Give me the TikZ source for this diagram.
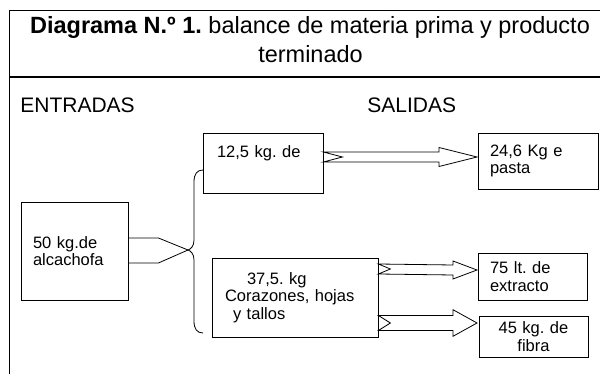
\documentclass[tikz,border=0pt]{standalone}
\usepackage{fontspec}
\setmainfont{Liberation Sans}
\usetikzlibrary{calc}
\frenchspacing

\tikzset{
  caja/.style={draw, line width=0.8pt, inner ysep=0pt, align=left,
    font=\fontsize{16.5}{17.5}\selectfont},
  rotulo/.style={inner sep=0pt, anchor=base west,
    font=\fontsize{21}{25}\selectfont},
  titulo/.style={inner sep=0pt, anchor=base,
    font=\fontsize{23.5}{29}\selectfont},
}

\begin{document}
\begin{tikzpicture}[x=1pt, y=-1pt, line width=0.8pt]

\useasboundingbox (0,0) rectangle (600,374);

%% hollow arrow: #1 tail, #2 tip, #3 half shaft, #4 half head, #5 head length, #6 notch
\newcommand\FLECHA[6]{
\draw ($(#1)+(0,-#3)$) -- ($(#2)+(-#5,-#3)$) -- ($(#2)+(-#5,-#4)$) -- (#2)
   -- ($(#2)+(-#5,#4)$) -- ($(#2)+(-#5,#3)$) -- ($(#1)+(0,#3)$)
   -- ($(#1)+(#6,0)$) -- cycle;
}

%% frame and title
\draw (9,374) -- (9,10) -- (600,10);
\draw[line width=1.6pt] (9,77) -- (600,77);

\node[titulo] (tit1) at (310,34) {\textbf{Diagrama N.º 1.} balance de materia prima y producto};
\node[titulo] (tit2) at (310.5,63) {terminado};

\node[rotulo] (entradas) at (20,113) {ENTRADAS};
\node[rotulo] (salidas) at (367,113) {SALIDAS};

%% boxes
\node[caja, inner xsep=12pt, text width=83pt, minimum height=98pt] (alca) at (74.5,251)
  {50 kg.de\\alcachofa};
\node[caja, inner xsep=14pt, text width=92pt, minimum height=60pt] (doce) at (263,163)
  {12,5 kg. de\\ \strut};
\node[caja, inner xsep=13pt, text width=140pt, minimum height=79pt] (resto) at (295,297.5)
  {\hspace{22pt}37,5. kg\\Corazones, hojas\\\hspace{8pt}y tallos};
\node[caja, inner xsep=12pt, text width=96pt, minimum height=56pt] (pasta) at (538,161)
  {24,6 Kg e\\pasta};
\node[caja, inner xsep=12pt, text width=85pt, minimum height=47pt] (extr) at (532.5,276.5)
  {75 lt. de\\extracto};
\node[caja, inner xsep=12pt, text width=85pt, minimum height=41pt, align=center] (fibra) at (533.5,336.5)
  {45 kg. de\\fibra};

%% brace
\coordinate (llave) at (188,250);
\draw (alca.east |- 0,238) -- ++(30,0) -- (llave);
\draw (alca.east |- 0,263) -- ++(30,0) -- (llave);
\draw (203,170) .. controls (197,170) and (194,174) .. (194,182) -- (194,240)
  .. controls (194,246) and (191,249) .. (llave)
  .. controls (191,251) and (194,254) .. (194,260) -- (194,321)
  .. controls (194,329) and (197,333) .. (203,333);

%% arrows
\coordinate (c1) at (doce.east |- 0,157);
\coordinate (p1) at (477,157);
\coordinate (c2) at (resto.east |- 0,269);
\coordinate (p2) at (477,270);
\coordinate (c3) at (resto.east |- 0,323);
\coordinate (p3) at (477,323);

\FLECHA{c1}{p1}{5}{9.5}{38}{19}
\FLECHA{c2}{p2}{5}{9}{24}{12}
\FLECHA{c3}{p3}{7.5}{13.3}{24}{12}

\end{tikzpicture}
\end{document}
